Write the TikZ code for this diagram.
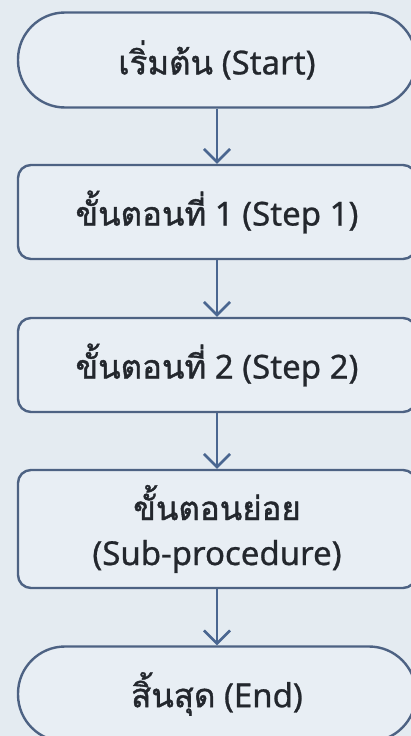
\documentclass[tikz,border=0pt]{standalone}
\usepackage{fontspec}
\setmainfont[FakeBold=0.8]{Noto Sans}
\newfontfamily\thai[Script=Thai,FakeBold=1.2]{Loma}
\usetikzlibrary{arrows.meta}
\definecolor{bgc}{HTML}{E4EBF1}
\definecolor{boxfill}{HTML}{E8EEF4}
\definecolor{edgec}{HTML}{4D6283}
\definecolor{arrc}{HTML}{4A6690}
\definecolor{txt}{HTML}{23272D}
\tikzset{
  basebox/.style={draw=edgec, fill=boxfill, line width=2.4pt, minimum width=398pt,
    text=txt, font=\fontsize{33}{45}\selectfont, align=center, inner sep=0pt},
  term/.style={basebox, rounded corners=47pt, minimum height=95pt},
  proc/.style={basebox, rounded corners=13pt, minimum height=94pt},
  flow/.style={draw=arrc, line width=2.3pt, -{Straight Barb[length=13pt,width=26pt,line width=2.6pt]}}
}
\begin{document}
\begin{tikzpicture}[x=1pt,y=-1pt]
\useasboundingbox (0,0) rectangle (411,736);
\fill[bgc] (0,0) rectangle (411,736);
\node[term] (start) at (217,60) {{\thai เริ่มต้น} (Start)};
\node[proc] (s1) at (217,212) {{\thai ขั้นตอนที่} 1 (Step 1)};
\node[proc] (s2) at (217,365) {{\thai ขั้นตอนที่} 2 (Step 2)};
\node[proc, minimum height=118pt] (sub) at (217,529) {{\thai ขั้นตอนย่อย}\\(Sub-procedure)};
\node[term] (end) at (217,694) {{\thai สิ้นสุด} (End)};
\draw[flow] (start) -- (s1);
\draw[flow] (s1) -- (s2);
\draw[flow] (s2) -- (sub);
\draw[flow] (sub) -- (end);
\end{tikzpicture}
\end{document}
